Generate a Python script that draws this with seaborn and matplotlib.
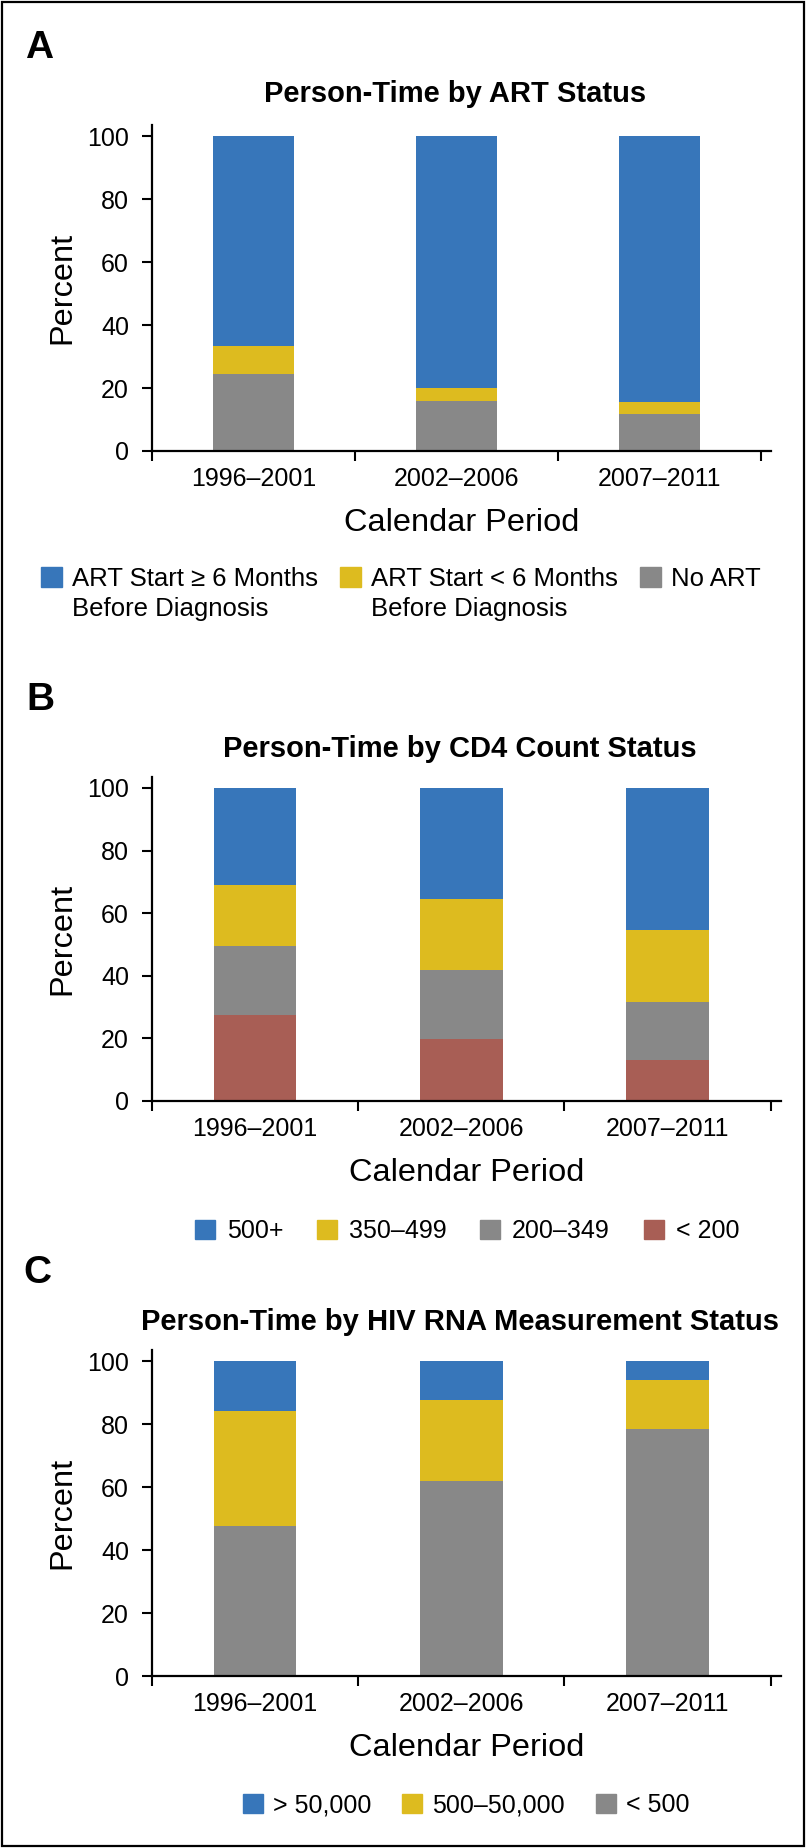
import numpy as np
import pandas as pd
import matplotlib
matplotlib.use("Agg")
import matplotlib.pyplot as plt
import matplotlib.patches as mpatches
import seaborn as sns

# ---------------- data ----------------
periods = ["1996–2001", "2002–2006", "2007–2011"]
yticks = [0, 20, 40, 60, 80, 100]

# Panel A: person-time by ART status (%), listed top -> bottom of stack
art_labels = ["ART Start ≥ 6 Months", "ART Start < 6 Months", "No ART"]
art_sub = "Before Diagnosis"
art_ge6 = [66.8, 80.1, 84.6]
art_lt6 = [8.9, 4.0, 3.7]
art_none = [24.3, 15.9, 11.7]

# Panel B: person-time by CD4 count status (%)
cd4_labels = ["500+", "350–499", "200–349", "< 200"]
cd4_500 = [30.9, 35.6, 45.5]
cd4_350 = [19.5, 22.6, 22.8]
cd4_200 = [22.2, 22.1, 18.5]
cd4_lt200 = [27.4, 19.7, 13.2]

# Panel C: person-time by HIV RNA measurement status (%)
rna_labels = ["> 50,000", "500–50,000", "< 500"]
rna_gt50k = [16.0, 12.5, 6.1]
rna_mid = [36.3, 25.5, 15.6]
rna_lt500 = [47.7, 62.0, 78.3]

titles = ["Person-Time by ART Status",
          "Person-Time by CD4 Count Status",
          "Person-Time by HIV RNA Measurement Status"]

BLUE = "#3776BA"
YELLOW = "#DDBB1F"
GRAY = "#888888"
RED = "#A85E55"

# ---------------- style ----------------
sns.set_style("ticks")
plt.rcParams["font.family"] = ["Liberation Sans", "DejaVu Sans"]
plt.rcParams["axes.edgecolor"] = "black"
plt.rcParams["xtick.color"] = "black"
plt.rcParams["ytick.color"] = "black"
plt.rcParams["text.color"] = "black"
plt.rcParams["axes.labelcolor"] = "black"

W, H = 806, 1848
fig = plt.figure(figsize=(W / 100, H / 100), dpi=100, facecolor="white")


def px_axes(left, right, top, bottom):
    return fig.add_axes([left / W, 1 - bottom / H, (right - left) / W, (bottom - top) / H])


def stacked(ax, series_top_to_bottom, colors):
    bottom_up = list(reversed(series_top_to_bottom))
    cols_bottom_up = list(reversed(colors))
    cum = np.cumsum(np.array(bottom_up, dtype=float), axis=0)
    # draw tallest cumulative first so lower segments paint over
    for level in range(len(bottom_up) - 1, -1, -1):
        df = pd.DataFrame({"period": periods, "value": cum[level]})
        sns.barplot(data=df, x="period", y="value", order=periods,
                    color=cols_bottom_up[level], saturation=1, width=0.4,
                    errorbar=None, ax=ax, linewidth=0, edgecolor="none")


def style_axes(ax, title, title_pad, ylab_x):
    ax.set_ylim(0, 103.5)
    ax.set_xlim(-0.5, 2.55)
    for s in ["top", "right"]:
        ax.spines[s].set_visible(False)
    for s in ["left", "bottom"]:
        ax.spines[s].set_linewidth(1.6)
    ax.set_yticks(yticks)
    ax.tick_params(axis="y", direction="out", length=7.2, width=1.5,
                   labelsize=18, pad=9.4)
    ax.set_xticks([-0.5, 0.5, 1.5, 2.5], labels=[""] * 4)
    ax.set_xticks([0, 1, 2], labels=periods, minor=True)
    ax.tick_params(axis="x", which="major", direction="out", length=7.2, width=1.5)
    ax.tick_params(axis="x", which="minor", length=0, pad=11.5, labelsize=18)
    ax.set_xlabel("Calendar Period", fontsize=23.4)
    ax.xaxis.set_label_coords(0.5, -0.175)
    ax.set_ylabel("Percent", fontsize=23.4)
    ax.yaxis.set_label_coords(ylab_x, 0.5)
    ax.set_title(title, fontsize=21, fontweight="bold", pad=title_pad, x=0.49)
    ax.grid(False)


# ---------------- Panel A ----------------
axA = px_axes(152, 771, 125, 451)
stacked(axA, [art_ge6, art_lt6, art_none], [BLUE, YELLOW, GRAY])
style_axes(axA, titles[0], 16.6, (77 - 152) / 619)

# ---------------- Panel B ----------------
axB = px_axes(152, 781, 777, 1101)
stacked(axB, [cd4_500, cd4_350, cd4_200, cd4_lt200], [BLUE, YELLOW, GRAY, RED])
style_axes(axB, titles[1], 14.4, (77 - 152) / 629)

# ---------------- Panel C ----------------
axC = px_axes(152, 781, 1350, 1676)
stacked(axC, [rna_gt50k, rna_mid, rna_lt500], [BLUE, YELLOW, GRAY])
style_axes(axC, titles[2], 14.4, (77 - 152) / 629)

# ---------------- legends ----------------
legA = fig.legend([mpatches.Patch(color=c) for c in [BLUE, YELLOW, GRAY]], art_labels,
                  loc="lower left", bbox_to_anchor=(41 / W, 1 - 591 / H), ncol=3,
                  frameon=False, fontsize=18.5, handlelength=0.82, handleheight=0.82,
                  handletextpad=0.39, columnspacing=0.85, borderpad=0, borderaxespad=0)

legB = fig.legend([mpatches.Patch(color=c) for c in [BLUE, YELLOW, GRAY, RED]], cd4_labels,
                  loc="center", bbox_to_anchor=(467 / W, 1 - 1231 / H), ncol=4,
                  frameon=False, fontsize=18, handlelength=0.8, handleheight=0.8,
                  handletextpad=0.47, columnspacing=1.36, borderpad=0, borderaxespad=0)

legC = fig.legend([mpatches.Patch(color=c) for c in [BLUE, YELLOW, GRAY]], rna_labels,
                  loc="center", bbox_to_anchor=(466 / W, 1 - 1805 / H), ncol=3,
                  frameon=False, fontsize=18, handlelength=0.8, handleheight=0.8,
                  handletextpad=0.39, columnspacing=1.25, borderpad=0, borderaxespad=0)

# second line of the two ART legend labels
fig.canvas.draw()
for t in legA.get_texts()[:2]:
    x, y = t.get_transform().transform(t.get_position())
    fig.text(x / W, (y - 30) / H, art_sub, fontsize=18.5, va="baseline", ha="left")

# ---------------- panel letters ----------------
fig.text(25 / W, 1 - 58 / H, "A", fontsize=28, fontweight="bold", va="baseline")
fig.text(26 / W, 1 - 710 / H, "B", fontsize=28, fontweight="bold", va="baseline")
fig.text(23 / W, 1 - 1283 / H, "C", fontsize=28, fontweight="bold", va="baseline")

# outer frame
fig.patches.append(mpatches.Rectangle((1.5 / W, 2.5 / H), (W - 3.5) / W, (H - 4) / H,
                                      transform=fig.transFigure, fill=False,
                                      edgecolor="black", linewidth=1.6))

fig.savefig("out.png", dpi=100, facecolor="white")
